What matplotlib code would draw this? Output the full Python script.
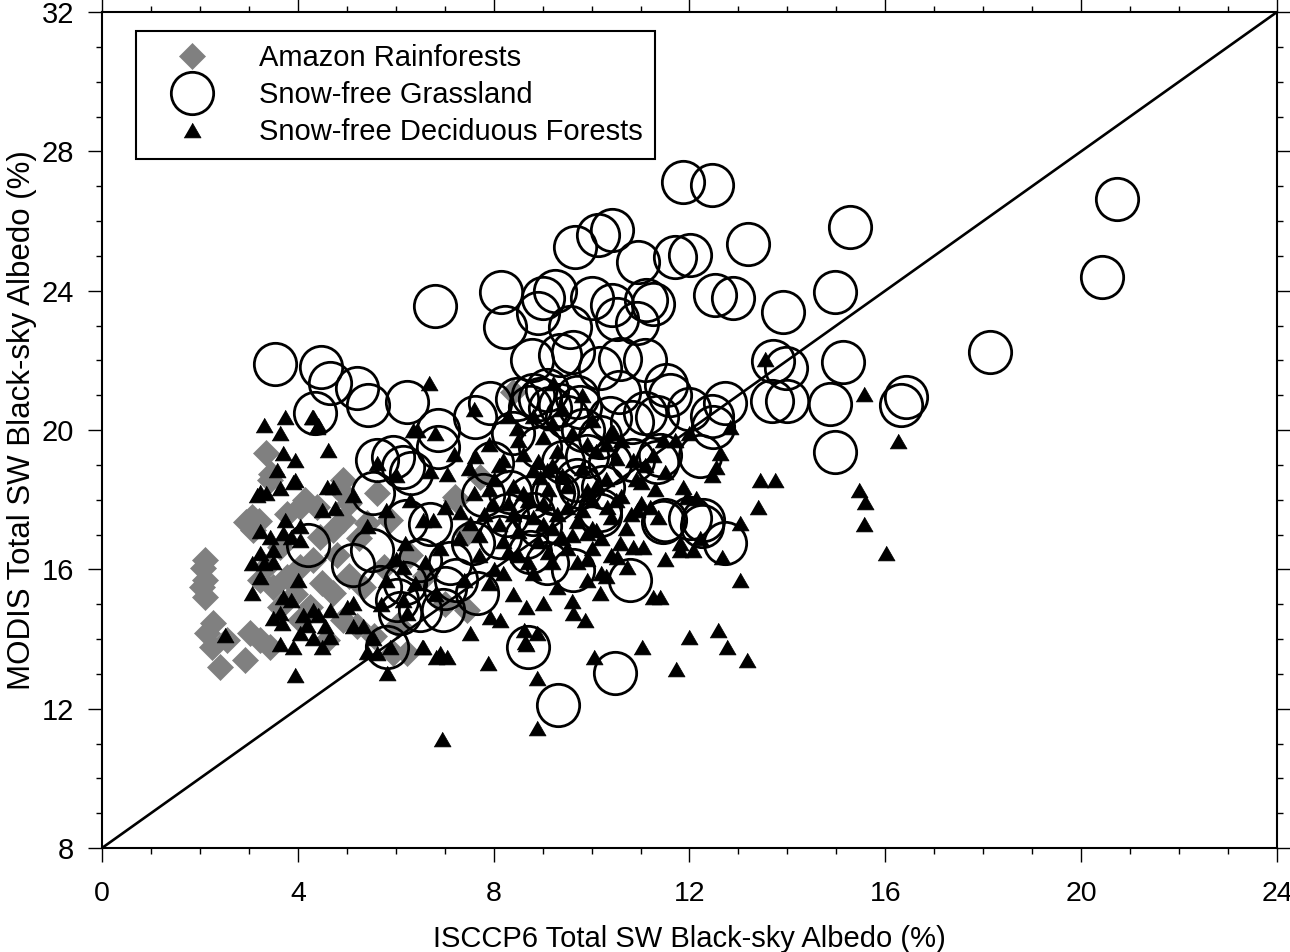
import matplotlib
matplotlib.use("Agg")
import matplotlib.pyplot as plt
from matplotlib.ticker import MultipleLocator

plt.rcParams['font.family'] = ['Liberation Sans', 'DejaVu Sans']

# ---------------- data ----------------
amazon_x = [2.10, 2.07, 2.10, 2.04, 2.10, 2.27, 2.14, 2.24, 2.41, 2.55, 2.92, 3.02, 3.23, 3.43,
            3.36, 3.43, 3.06, 3.09, 3.23, 3.36, 3.77, 4.04, 4.39, 4.86, 4.93, 4.72, 4.32, 4.04,
            3.77, 3.50, 3.64, 4.25, 4.72, 4.93, 4.59, 4.04, 5.20, 5.61, 5.41, 5.88, 5.95, 5.34,
            5.75, 4.45, 3.64, 4.93, 8.40, 7.21, 7.72, 7.24, 7.45, 7.45, 6.22, 5.05, 5.25, 4.80,
            5.05, 5.55, 6.05, 3.95, 4.50, 2.95, 3.20, 3.45, 4.15, 6.30, 6.60, 7.00]
amazon_y = [16.27, 16.03, 15.69, 15.50, 15.21, 14.45, 14.16, 13.78, 13.21, 13.97, 13.40, 14.16, 13.97, 13.78,
            19.33, 18.57, 17.51, 17.13, 15.69, 16.07, 17.60, 17.80, 17.80, 18.28, 17.42, 17.13, 16.27, 16.07,
            15.79, 15.50, 14.93, 14.93, 15.31, 14.55, 13.97, 14.55, 14.36, 18.18, 17.32, 17.42, 13.59, 15.50,
            16.07, 16.94, 16.65, 18.57, 21.10, 18.09, 18.66, 18.00, 17.03, 14.83, 13.59, 17.90, 16.90, 16.40,
            15.80, 14.10, 14.40, 15.30, 15.60, 17.35, 17.40, 18.75, 18.00, 16.40, 15.80, 15.00]

grass_x = [11.86, 12.45, 20.74, 15.28, 10.41, 10.14, 9.66, 13.19, 11.70, 12.01, 10.95, 20.43, 8.16, 9.00,
           9.25, 10.00, 10.41, 11.12, 11.26, 12.52, 12.89, 14.97, 6.80, 8.23, 8.90, 9.56, 10.51, 10.92,
           13.90, 3.53, 4.47, 4.66, 5.20, 5.44, 6.22, 4.35, 8.78, 9.35, 9.62, 10.17, 10.58, 11.09,
           11.53, 13.70, 13.98, 15.13, 18.14, 16.43, 16.33, 12.72, 13.68, 14.00, 14.86, 14.97, 12.21, 12.27,
           12.72, 12.45, 11.33, 11.50, 12.01, 11.60, 12.00, 10.55, 11.10, 10.82, 11.33, 10.38, 9.82, 10.17,
           9.70, 9.08, 8.80, 8.74, 9.15, 9.49, 8.95, 9.42, 9.90, 10.38, 10.24, 9.76, 9.21, 8.74,
           10.17, 8.95, 6.87, 7.62, 7.92, 8.47, 8.95, 9.35, 9.76, 12.49, 8.40, 7.96, 7.79, 8.33,
           8.27, 8.81, 9.29, 9.70, 10.17, 10.85, 11.40, 11.46, 12.25, 10.78, 9.63, 9.08, 8.67, 8.13,
           7.58, 7.11, 6.50, 7.24, 7.65, 6.97, 6.50, 6.09, 6.19, 6.20, 8.71, 10.48, 9.32, 8.74,
           6.70, 5.61, 5.95, 6.15, 6.32, 6.87, 5.54, 4.21, 5.13, 5.51, 5.68, 6.02, 5.82, 7.00]
grass_y = [27.13, 27.04, 26.63, 25.84, 25.74, 25.60, 25.26, 25.33, 24.98, 25.03, 24.83, 24.40, 23.97, 23.80,
           24.00, 23.78, 23.59, 23.73, 23.63, 23.88, 23.78, 23.97, 23.56, 22.95, 23.35, 22.97, 23.20, 23.06,
           23.40, 21.90, 21.80, 21.34, 21.20, 20.72, 20.80, 20.48, 22.00, 22.15, 22.25, 21.77, 22.05, 22.00,
           21.30, 21.98, 21.77, 21.94, 22.25, 20.96, 20.72, 20.77, 20.82, 20.82, 20.75, 19.38, 19.24, 17.42,
           16.75, 20.39, 19.09, 17.42, 17.46, 21.00, 20.60, 21.10, 20.50, 20.24, 20.38, 20.35, 20.00, 19.80,
           20.96, 21.15, 21.00, 20.67, 20.63, 20.38, 19.52, 19.09, 19.24, 19.04, 18.37, 18.37, 18.19, 18.09,
           17.56, 17.23, 20.00, 20.38, 20.77, 20.90, 20.90, 20.72, 20.67, 20.10, 19.90, 19.04, 18.13, 18.23,
           17.56, 17.60, 18.18, 18.57, 17.70, 19.14, 19.28, 17.37, 17.23, 15.69, 15.98, 16.17, 16.94, 16.94,
           16.75, 16.17, 16.27, 15.69, 15.31, 14.83, 14.83, 14.74, 15.60, 17.40, 13.78, 13.01, 12.10, 16.51,
           17.30, 19.14, 19.23, 18.95, 18.76, 19.52, 18.18, 16.70, 16.13, 16.56, 15.50, 15.12, 13.78, 15.45]

decid_x = [3.30, 3.74, 3.64, 4.62, 3.70, 3.94, 3.57, 3.94, 3.16, 3.36, 3.64, 4.59, 4.72, 4.32,
           4.39, 5.13, 4.49, 4.76, 3.74, 4.04, 3.23, 3.43, 3.70, 3.87, 4.04, 3.23, 3.50, 3.06,
           3.30, 3.50, 3.23, 3.06, 4.01, 3.70, 3.87, 3.64, 3.50, 3.67, 4.11, 4.32, 4.18, 4.04,
           4.42, 4.66, 5.00, 5.13, 4.55, 4.66, 4.32, 3.91, 3.64, 4.49, 2.51, 3.94, 5.34, 5.54,
           5.41, 5.82, 5.61, 5.88, 5.41, 6.19, 6.56, 6.77, 6.36, 6.67, 5.13, 6.15, 6.15, 6.22,
           6.90, 6.53, 5.61, 6.70, 7.04, 7.62, 8.47, 8.20, 4.28, 4.42, 3.23, 3.91, 6.43,
           7.31, 7.52, 7.99, 8.81, 8.95, 9.08, 9.90, 10.31, 10.44, 10.85, 11.26, 11.87, 11.94, 12.62,
           12.83, 12.55, 11.36, 10.58, 10.51, 10.72, 10.85, 11.06, 11.50, 11.80, 12.08, 13.03, 10.17, 9.90,
           11.26, 11.40, 9.63, 9.86, 8.67, 9.01, 8.61, 8.88, 8.67, 7.92, 8.13, 7.52, 7.89, 8.88,
           10.04, 11.02, 11.73, 11.98, 12.59, 12.76, 13.17, 13.03, 12.66, 6.56, 6.83, 7.04,
           15.57, 16.26, 13.44, 13.75, 15.46, 15.58, 15.57, 16.01, 12.45, 13.39, 8.65, 8.88, 6.95, 13.54,
           12.14, 10.92, 10.38, 11.46, 9.21, 11.80, 12.21, 9.90, 10.10,
           7.60, 7.80, 8.00, 8.10, 8.20, 8.30, 8.40, 8.50, 8.50, 8.60, 8.70, 8.80, 8.90, 9.00,
           9.00, 9.10, 9.20, 9.20, 9.30, 9.40, 9.50, 9.50, 9.60, 9.70, 9.80, 9.90, 10.00, 10.10,
           10.20, 10.30, 10.40, 10.50, 10.60, 10.70, 10.90, 11.00, 11.10, 11.30, 11.50, 7.90, 8.30, 8.80,
           9.40, 9.80, 7.70, 7.30, 7.00, 6.90, 7.40, 7.90, 8.40, 8.80, 9.30, 6.60, 6.80, 6.40,
           6.00, 5.80, 5.70, 6.30, 6.00, 5.80, 7.20, 6.80, 7.60, 11.70, 12.00, 10.00, 8.20, 9.60,
           10.30, 10.00,
           7.70, 7.90, 8.10, 8.30, 8.40, 8.60, 8.70, 8.90, 9.00, 9.10, 9.20, 9.30, 9.40, 9.50,
           9.60, 9.70, 9.80, 9.90, 10.00, 10.10, 10.20, 10.30, 10.40, 10.50, 10.60, 10.80, 11.00, 11.20,
           7.50, 8.00, 8.50, 9.20]
decid_y = [20.14, 20.38, 19.90, 19.43, 19.33, 19.14, 18.85, 18.57, 18.13, 18.18, 18.33, 18.37, 18.37, 20.38,
           20.10, 18.13, 17.70, 17.75, 17.42, 17.23, 17.09, 16.94, 17.03, 16.94, 16.84, 16.46, 16.56, 16.17,
           16.17, 16.22, 15.79, 15.31, 15.69, 15.21, 15.12, 14.74, 14.60, 14.45, 14.69, 14.83, 14.40, 14.16,
           14.69, 14.83, 14.93, 15.02, 14.36, 14.07, 14.02, 13.78, 13.87, 13.78, 14.11, 12.97, 14.36, 14.02,
           13.64, 13.02, 13.59, 13.78, 17.23, 16.75, 17.42, 17.42, 20.00, 21.34, 14.36, 16.07, 15.12, 14.74,
           13.59, 13.78, 19.04, 18.81, 18.75, 19.24, 20.05, 19.14, 20.38, 20.14, 18.23, 18.52, 20.00,
           17.65, 17.32, 17.89, 18.85, 18.66, 18.85, 18.28, 17.80, 19.95, 19.14, 19.28, 18.37, 18.09, 19.33,
           20.10, 18.95, 17.51, 16.75, 16.36, 16.07, 16.65, 16.65, 16.31, 16.56, 16.56, 15.69, 15.31, 15.69,
           15.21, 15.21, 14.74, 14.55, 14.93, 15.02, 14.26, 14.16, 13.87, 14.64, 14.55, 14.16, 13.30, 12.87,
           13.49, 13.78, 13.15, 14.07, 14.26, 13.78, 13.40, 17.32, 16.36, 13.78, 13.49, 13.49,
           21.03, 19.69, 18.57, 18.57, 18.28, 17.92, 17.29, 16.46, 18.71, 17.78, 13.92, 11.44, 11.12, 22.03,
           18.04, 17.70, 19.90, 19.71, 21.34, 16.75, 16.89, 17.03, 17.13,
           18.20, 17.60, 18.60, 17.30, 16.80, 17.90, 18.40, 17.10, 16.40, 19.30, 18.00, 17.50, 16.80, 17.90,
           19.80, 18.30, 17.20, 16.20, 19.40, 18.70, 17.80, 16.60, 19.90, 17.40, 18.90, 16.30, 18.00, 19.40,
           16.90, 18.60, 17.50, 19.20, 18.10, 17.20, 18.60, 17.90, 19.00, 18.30, 18.80, 19.60, 20.40, 20.40,
           20.60, 21.00, 16.40, 16.90, 17.80, 16.60, 15.70, 15.60, 15.30, 15.90, 15.50, 16.20, 15.30, 15.60,
           16.30, 15.70, 15.00, 18.00, 18.70, 17.70, 19.30, 19.90, 20.60, 19.70, 19.90, 20.30, 15.90, 15.10,
           15.80, 16.60,
           17.00, 18.30, 19.00, 16.50, 17.60, 18.20, 16.20, 19.10, 17.30, 16.50, 19.00, 17.60, 16.90, 18.40,
           17.00, 16.20, 17.70, 19.60, 17.20, 18.40, 15.90, 19.60, 16.40, 18.00, 19.70, 17.60, 18.50, 17.80,
           18.90, 16.00, 19.70, 20.20]

one_to_one = [8, 32]          # 1:1 line endpoints (x = 0..24 maps to y = 8..32)
x_limits = [0, 24]
y_limits = [8, 32]
labels = ["Amazon Rainforests", "Snow-free Grassland", "Snow-free Deciduous Forests"]

# ---------------- figure ----------------
fig = plt.figure(figsize=(12.9, 9.52), dpi=100)
ax = fig.add_axes([0.07907, 0.10924, 0.91085, 0.87815])

tri = [(-0.5, -0.433), (0.5, -0.433), (0.0, 0.433)]

ax.plot(amazon_x, amazon_y, linestyle='none', marker='D', ms=13.7,
        mfc='#808080', mec='#808080', mew=0.5, label=labels[0], zorder=2)
ax.plot(grass_x, grass_y, linestyle='none', marker='o', ms=30.5,
        mfc='none', mec='black', mew=2.0, label=labels[1], zorder=3)
ax.plot(decid_x, decid_y, linestyle='none', marker=tri, ms=12.3,
        mfc='black', mec='black', mew=0.5, label=labels[2], zorder=4)
ax.plot([x_limits[0] + (one_to_one[0] - y_limits[0]), x_limits[0] + (one_to_one[1] - y_limits[0])],
        one_to_one, color='black', lw=1.9, zorder=5)

ax.set_xlim(x_limits)
ax.set_ylim(y_limits)
ax.xaxis.set_major_locator(MultipleLocator(4))
ax.yaxis.set_major_locator(MultipleLocator(4))
ax.xaxis.set_minor_locator(MultipleLocator(1))
ax.yaxis.set_minor_locator(MultipleLocator(1))

ax.tick_params(which='both', direction='out', top=True, right=True, width=1.0, color='black')
ax.tick_params(which='major', length=10)
ax.tick_params(which='minor', length=4.3)
ax.tick_params(axis='x', which='major', labelsize=20.5, pad=14)
ax.tick_params(axis='y', which='major', labelsize=21, pad=10)

for sp in ax.spines.values():
    sp.set_linewidth(1.5)

ax.set_xlabel("ISCCP6 Total SW Black-sky Albedo (%)", fontsize=21)
ax.set_ylabel("MODIS Total SW Black-sky Albedo (%)", fontsize=22.5)
ax.xaxis.set_label_coords(0.5, -0.0925)
ax.yaxis.set_label_coords(-0.055, 0.512)

leg = ax.legend(loc='upper left', bbox_to_anchor=(0.0289, 0.9773), borderaxespad=0,
                frameon=True, fancybox=False, edgecolor='black', framealpha=1,
                handlelength=2.93, handletextpad=0.84, borderpad=0.44, labelspacing=0.31,
                fontsize=21, numpoints=1)
leg.get_frame().set_linewidth(1.5)

fig.savefig("out.png", dpi=100)
